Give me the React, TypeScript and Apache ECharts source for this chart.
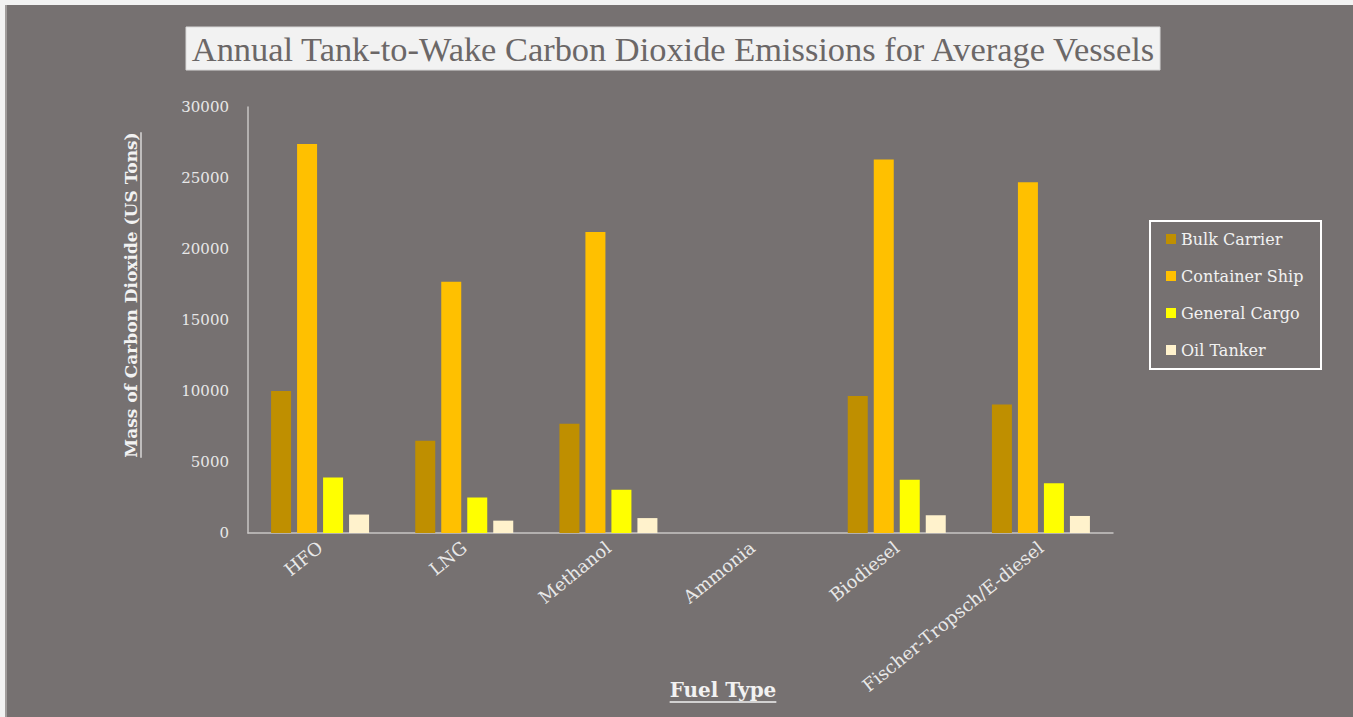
import React, { useEffect, useRef } from "react";
import * as echarts from "echarts";

// Fuel types on the x axis
const categories = ["HFO", "LNG", "Methanol", "Ammonia", "Biodiesel", "Fischer-Tropsch/E-diesel"];

// Annual tank-to-wake CO2 per vessel type (US tons)
const bulkCarrier = [10000, 6500, 7700, 0, 9650, 9050];
const containerShip = [27400, 17700, 21200, 0, 26300, 24700];
const generalCargo = [3900, 2500, 3050, 0, 3750, 3500];
const oilTanker = [1300, 870, 1050, 0, 1250, 1200];

const seriesNames = ["Bulk Carrier", "Container Ship", "General Cargo", "Oil Tanker"];
const seriesColors = ["#bf8f00", "#ffc000", "#ffff00", "#fff2cc"];

const titleText = "Annual Tank-to-Wake Carbon Dioxide Emissions for Average Vessels";
const yTitle = "Mass of Carbon Dioxide (US Tons)";
const xTitle = "Fuel Type";

const TITLE_FONT = "'Liberation Serif', 'DejaVu Serif', serif";
const SERIF = "'DejaVu Serif', 'Liberation Serif', serif";
const TEXT_LIGHT = "#f2f2f2";

function textWidth(text: string, font: string): number {
  const ctx = document.createElement("canvas").getContext("2d");
  if (!ctx) return text.length * 8;
  ctx.font = font;
  return ctx.measureText(text).width;
}

export default function App() {
  const ref = useRef<HTMLDivElement>(null);

  useEffect(() => {
    if (!ref.current) return;
    const chart = echarts.init(ref.current, undefined, { renderer: "svg" });

    const yTitleFont = `bold 17px ${SERIF}`;
    const xTitleFont = `bold 20px ${SERIF}`;
    const yTitleW = textWidth(yTitle, yTitleFont);
    const xTitleW = textWidth(xTitle, xTitleFont);

    const data = [bulkCarrier, containerShip, generalCargo, oilTanker];

    chart.setOption({
      animation: false,
      backgroundColor: "#767171",
      title: {
        text: titleText,
        left: 661,
        top: 22,
        textAlign: "center",
        textStyle: {
          fontFamily: TITLE_FONT,
          fontSize: 34.4,
          fontWeight: "normal",
          color: "#6b6767",
        },
      },
      legend: {
        orient: "vertical",
        left: 1159,
        top: 226,
        padding: 0,
        itemWidth: 10,
        itemHeight: 10,
        itemGap: 21,
        icon: "rect",
        textStyle: { fontFamily: SERIF, fontSize: 16, color: TEXT_LIGHT },
        data: seriesNames,
      },
      grid: { left: 241, right: 240, top: 102, bottom: 184, containLabel: false },
      xAxis: {
        type: "category",
        data: categories,
        axisLine: { show: true, lineStyle: { color: "#c9c6c5", width: 1.5 } },
        axisTick: { show: false },
        axisLabel: {
          interval: 0,
          rotate: 39,
          margin: 12,
          fontFamily: SERIF,
          fontSize: 18,
          color: "#e8e8e8",
        },
      },
      yAxis: {
        type: "value",
        min: 0,
        max: 30000,
        interval: 5000,
        axisLine: { show: true, lineStyle: { color: "#c9c6c5", width: 1.5 } },
        axisTick: { show: false },
        splitLine: { show: false },
        axisLabel: {
          margin: 19,
          fontFamily: SERIF,
          fontSize: 15,
          color: "#e8e8e8",
          formatter: (v: number) => String(v),
        },
      },
      series: seriesNames.map((name, i) => ({
        name,
        type: "bar",
        data: data[i],
        barWidth: 20,
        barGap: "30%",
        itemStyle: { color: seriesColors[i] },
      })),
      graphic: [
        // title box
        {
          type: "rect",
          z: -1,
          shape: { x: 179, y: 22, width: 974, height: 43 },
          style: { fill: "#f2f2f2", stroke: "#d9d9d9", lineWidth: 1 },
        },
        // legend frame
        {
          type: "rect",
          shape: { x: 1143, y: 216, width: 171, height: 148 },
          style: { fill: "none", stroke: "#ffffff", lineWidth: 2 },
        },
        // y axis title with underline
        {
          type: "group",
          x: 124,
          y: 290,
          rotation: Math.PI / 2,
          children: [
            {
              type: "text",
              style: {
                text: yTitle,
                x: 0,
                y: 0,
                align: "center",
                verticalAlign: "middle",
                font: yTitleFont,
                fill: TEXT_LIGHT,
              },
            },
            {
              type: "line",
              shape: { x1: -yTitleW / 2, y1: 10, x2: yTitleW / 2, y2: 10 },
              style: { stroke: TEXT_LIGHT, lineWidth: 1.2 },
            },
          ],
        },
        // x axis title with underline
        {
          type: "group",
          x: 716,
          y: 685,
          children: [
            {
              type: "text",
              style: {
                text: xTitle,
                x: 0,
                y: 0,
                align: "center",
                verticalAlign: "middle",
                font: xTitleFont,
                fill: TEXT_LIGHT,
              },
            },
            {
              type: "line",
              shape: { x1: -xTitleW / 2, y1: 12, x2: xTitleW / 2, y2: 12 },
              style: { stroke: TEXT_LIGHT, lineWidth: 1.5 },
            },
          ],
        },
      ],
    });

    return () => chart.dispose();
  }, []);

  return (
    <div
      style={{
        position: "fixed",
        left: 0,
        top: 0,
        width: 1353,
        height: 717,
        background: "#f2f2f2",
        overflow: "hidden",
      }}
    >
      <div
        style={{
          position: "absolute",
          left: 5,
          top: 5,
          width: 1348,
          height: 712,
          boxSizing: "border-box",
          borderLeft: "2px solid #a09c9b",
          background: "#767171",
        }}
      >
        <div ref={ref} style={{ width: 1346, height: 712 }} />
      </div>
    </div>
  );
}
